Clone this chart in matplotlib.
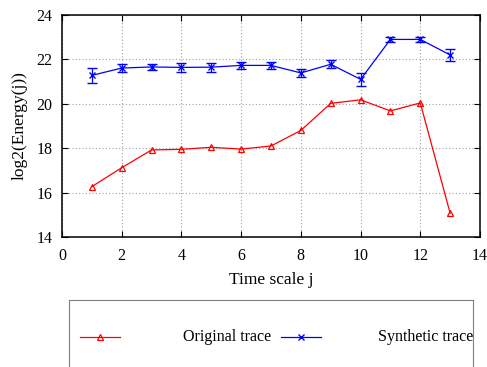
import numpy as np
import matplotlib.pyplot as plt
from matplotlib.lines import Line2D

plt.rcParams['font.family'] = ['Liberation Serif', 'DejaVu Serif']

# data
scales = [1, 2, 3, 4, 5, 6, 7, 8, 9, 10, 11, 12, 13]
original = [16.27, 17.12, 17.92, 17.95, 18.04, 17.96, 18.1, 18.8, 20.02, 20.18, 19.68, 20.04, 15.07]
synthetic = [21.28, 21.61, 21.66, 21.64, 21.65, 21.73, 21.73, 21.39, 21.78, 21.1, 22.9, 22.9, 22.2]
synthetic_err = [0.35, 0.2, 0.15, 0.2, 0.2, 0.15, 0.15, 0.2, 0.18, 0.3, 0.12, 0.12, 0.25]

fig = plt.figure(figsize=(4.87, 3.67), dpi=100)
ax = fig.add_axes([62 / 487, 1 - 237 / 367, 418 / 487, 222 / 367])

ax.plot(scales, original, color='#ff0000', lw=0.9, marker='^', ms=5,
        mfc='none', mec='#ff0000', mew=0.9)
ax.errorbar(scales, synthetic, yerr=synthetic_err, color='#0000ff', lw=0.9,
            marker='x', ms=4, mew=1.0, capsize=3.5, elinewidth=0.9, capthick=0.9)

ax.set_xlim(0, 14)
ax.set_ylim(14, 24)
ax.set_xticks(range(0, 15, 2))
ax.set_yticks(range(14, 25, 2))
ax.grid(True, color='#a0a0a0', ls=(0, (1, 2)), lw=0.8)
ax.tick_params(direction='in', top=True, right=True, labelsize=11.5, length=4)
ax.tick_params(axis='x', pad=8)
ax.tick_params(axis='y', pad=7)
for s in ax.spines.values():
    s.set_linewidth(1.1)
ax.set_xlabel('Time scale j', fontsize=12.5, labelpad=6)
ax.set_ylabel('log2(Energy(j))', fontsize=12.5, labelpad=6)

# gnuplot-style legend box below the plot, cut off at the figure edge
lax = fig.add_axes([69 / 487, 0, 404 / 487, 67 / 367])
lax.set_xlim(69, 473)
lax.set_ylim(367, 300)
lax.set_xticks([])
lax.set_yticks([])
for name in ['left', 'top', 'right']:
    lax.spines[name].set_color('#808080')
    lax.spines[name].set_linewidth(0.8)
lax.spines['bottom'].set_visible(False)
lax.patch.set_alpha(0)

lax.add_line(Line2D([80, 120], [337, 337], color='#ff0000', lw=0.9))
lax.plot([100], [337], marker='^', ms=5, mfc='none', mec='#ff0000', mew=0.9)
lax.text(271, 337, 'Original trace', ha='right', va='center', fontsize=11.5)
lax.add_line(Line2D([281, 321], [337, 337], color='#0000ff', lw=0.9))
lax.plot([301], [337], marker='x', ms=4, color='#0000ff', mew=1.0)
lax.text(473, 337, 'Synthetic trace', ha='right', va='center', fontsize=11.5)

fig.savefig('out.png', dpi=100)
